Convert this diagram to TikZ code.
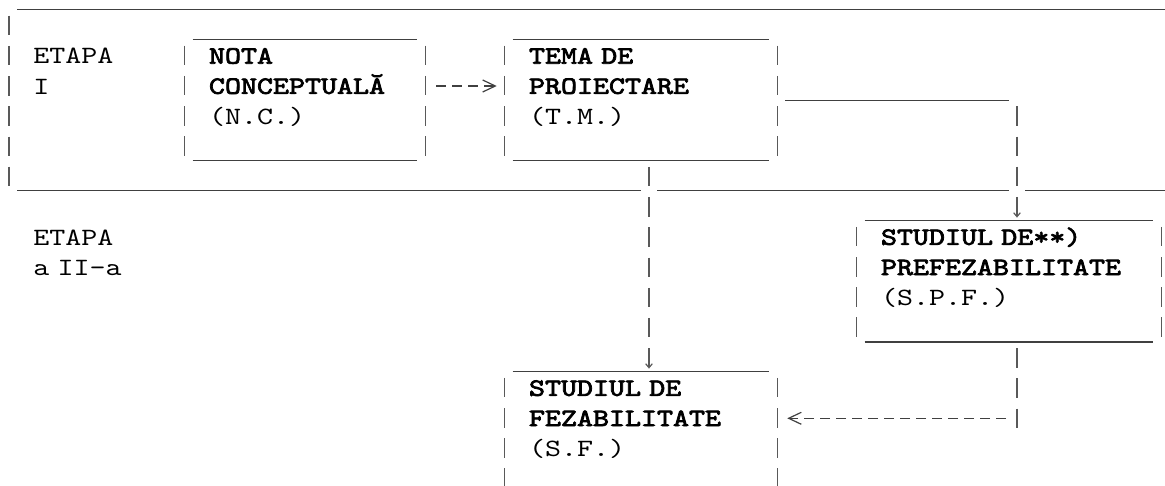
\documentclass[tikz,border=0pt]{standalone}
\usepackage{fontspec}
\newfontfamily\asciifont{lmmono10-regular}[Extension=.otf, FakeStretch=1.225, BoldFont=lmmono10-regular, BoldFeatures={FakeBold=3}]
\usetikzlibrary{calc}
\usetikzlibrary{arrows.meta}

\begin{document}
\begin{tikzpicture}[x=0.75pt, y=-0.75pt,
    txt/.style={font=\asciifont\fontsize{18.66}{22.65}\selectfont, inner sep=0, anchor=base west, text width=240pt, align=left},
    boxframe/.style={rectangle, inner sep=0, minimum height=90.6pt},
    uline/.style={draw=black!75, line width=0.9pt},
    vbar/.style={draw=black!65, line width=0.9pt, dash pattern=on 14.6pt off 8.05pt},
    dline/.style={draw=black!75, line width=0.9pt, dash pattern=on 7.5pt off 4.5pt},
    darr/.style={-{Straight Barb[length=3pt,width=5pt]}, shorten >=2.25pt}]
    \useasboundingbox (0,0) rectangle (1165,486);
    \clip (0,0) rectangle (1165,486);

    % stage frame
    \draw[uline] (17,9.5) -- (1165,9.5);
    \draw[vbar] (9,15.7) -- (9,190.7);
    \draw[uline] (17,190.7) -- (641,190.7) (657,190.7) -- (1009,190.7) (1025,190.7) -- (1165,190.7);
    \node[txt] (et1) at (33,63.9) {ETAPA\\I};
    \node[txt] (et2) at (33,245.1) {ETAPA\\a II-a};

    % boxes
    \node[boxframe, minimum width=180pt] (nc) at (305,100.1) {};
    \node[boxframe, minimum width=204pt] (tm) at (641,100.1) {};
    \node[boxframe, minimum width=228pt] (spf) at (1009,281.3) {};
    \node[boxframe, minimum width=204pt] (sf) at (641,432.3) {};
    \foreach \b in {nc,tm,spf,sf}
    {
        \draw[uline] ($(\b.north west)+(8,0)$) -- ($(\b.north east)+(-8,0)$);
        \draw[uline] ($(\b.south west)+(8,0)$) -- ($(\b.south east)+(-8,0)$);
        \draw[vbar] ($(\b.north west)+(0,6.2)$) -- (\b.south west);
        \draw[vbar] ($(\b.north east)+(0,6.2)$) -- (\b.south east);
    }
    \node[txt] (nct) at ($(nc.north west)+(24,24.2)$) {\textbf{NOTA}\\\textbf{CONCEPTUALĂ}\\(N.C.)};
    \node[txt] (tmt) at ($(tm.north west)+(24,24.2)$) {\textbf{TEMA DE}\\\textbf{PROIECTARE}\\(T.M.)};
    \node[txt] (spft) at ($(spf.north west)+(24,24.2)$) {\textbf{STUDIUL DE**)}\\\textbf{PREFEZABILITATE}\\(S.P.F.)};
    \node[txt] (sft) at ($(sf.north west)+(24,24.2)$) {\textbf{STUDIUL DE}\\\textbf{FEZABILITATE}\\(S.F.)};

    % connectors
    \coordinate (k63) at (1017,100.1);
    \coordinate (k14) at (1017,418.3);
    \draw[dline, -{Straight Barb[length=9.5pt,width=9pt]}, shorten >=6pt] ($(nc.east)+(11,-14.1)$) -- ($(tm.west)+(0,-14.1)$);
    \draw[uline] ($(tm.east)+(8,0)$) -- ($(k63)+(-8,0)$);
    \draw[vbar, darr] ($(k63)+(0,6.2)$) -- (k63 |- spf.north);
    \draw[vbar, darr, dash phase=18pt] ($(tm.south)+(8,0)$) -- ($(sf.north)+(8,0)$);
    \draw[vbar, dash phase=18pt] (spf.south -| k14) -- ($(k14)+(0,9.5)$);
    \draw[dline, -{Straight Barb[length=9.5pt,width=9pt]}, shorten >=7.5pt] ($(k14)+(-11,0)$) -- (sf.east |- k14);
\end{tikzpicture}
\end{document}
